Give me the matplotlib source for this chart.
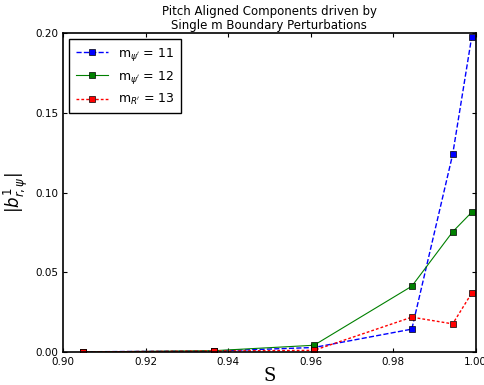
import numpy as np
import matplotlib
matplotlib.use("Agg")
import matplotlib.pyplot as plt

# Radial positions of the six runs
s_vals = [0.9048, 0.9366, 0.9608, 0.9845, 0.9944, 0.9990]

# Pitch aligned component amplitudes per boundary m
b_m11 = [0.0003, 0.0008, 0.0030, 0.0145, 0.1240, 0.1975]
b_m12 = [0.0002, 0.0010, 0.0044, 0.0414, 0.0755, 0.0877]
b_m13 = [0.0002, 0.0008, 0.0012, 0.0220, 0.0178, 0.0370]

labels = [r"m$_{\psi'}$ = 11", r"m$_{\psi'}$ = 12", r"m$_{R'}$ = 13"]

fig = plt.figure(figsize=(4.85, 3.85), dpi=100)
ax = fig.add_axes([0.130, 0.085, 0.851, 0.829])

ax.plot(s_vals, b_m11, color="blue", ls="--", lw=1, marker="s", ms=5,
        mec="black", mew=0.5, label=labels[0])
ax.plot(s_vals, b_m12, color="green", ls="-", lw=0.8, marker="s", ms=5,
        mec="black", mew=0.5, label=labels[1])
ax.plot(s_vals, b_m13, color="red", ls="--", lw=1, dashes=(2, 1.5),
        marker="s", ms=5, mec="black", mew=0.5, label=labels[2])

ax.set_xlim(0.90, 1.00)
ax.set_ylim(0.0, 0.20)
ax.set_xticks(np.arange(0.90, 1.001, 0.02))
ax.set_yticks(np.arange(0.0, 0.201, 0.05))
ax.xaxis.set_major_formatter(plt.FormatStrFormatter("%.2f"))
ax.yaxis.set_major_formatter(plt.FormatStrFormatter("%.2f"))
ax.tick_params(direction="in", labelsize=7.5, length=3, top=True, right=True)
for sp in ax.spines.values():
    sp.set_linewidth(1.2)

ax.set_xlabel("S", family="serif", fontsize=13, labelpad=0)
ax.set_ylabel(r"$|b^1_{r,\psi}|$", fontsize=12, labelpad=4)
ax.set_title("Pitch Aligned Components driven by\nSingle m Boundary Perturbations",
             fontsize=8.5, pad=3, linespacing=1.1)

leg = ax.legend(loc="upper left", fontsize=9, fancybox=False, framealpha=1,
                edgecolor="black", handlelength=2.6, borderpad=0.5)
leg.get_frame().set_linewidth(1.0)

fig.savefig("out.png", dpi=100)
